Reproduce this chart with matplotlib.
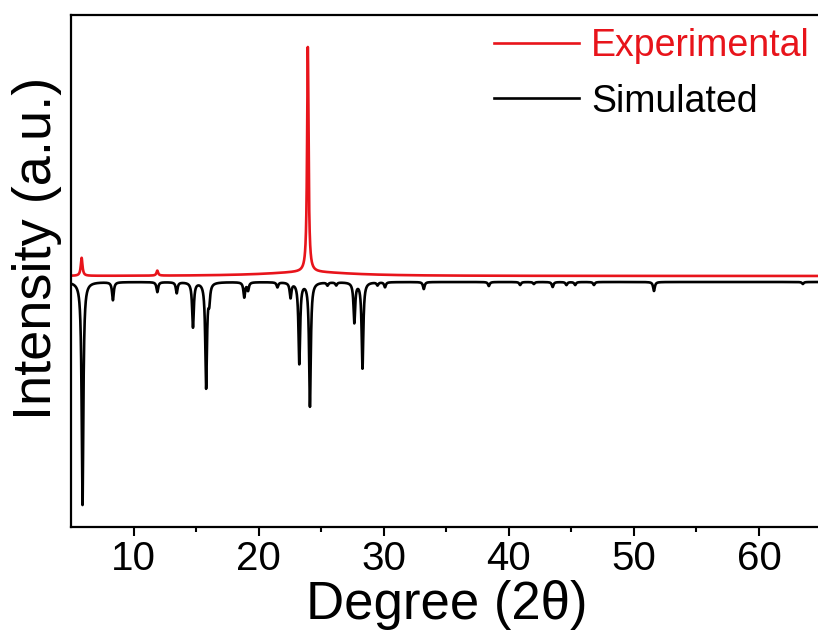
import numpy as np
import matplotlib
matplotlib.use("Agg")
import matplotlib.pyplot as plt

plt.rcParams['font.family'] = ['Liberation Sans', 'DejaVu Sans']

# peak lists (2theta in degrees, heights in plot units)
exp_pos = [5.85, 11.9, 23.93, 24.0]
exp_height = [18, 5, 225, 4]
exp_hwhm = [0.08, 0.08, 0.07, 4.0]
exp_base = 251

sim_pos = [5.92, 8.35, 11.9, 13.45, 14.75, 15.8, 16.05, 18.85, 19.15, 21.5,
           22.55, 23.25, 24.1, 25.5, 26.2, 27.65, 28.3, 29.5, 30.1, 33.2,
           38.4, 40.9, 42.0, 43.5, 44.6, 45.3, 46.8, 51.6, 63.5]
sim_depth = [223, 18, 10, 11, 45, 105, 16, 15, 8, 5,
             15, 81, 124, 3, 3, 40, 86, 3, 5, 7,
             4, 3, 2, 5, 3, 3, 3, 9, 2]
sim_hwhm = 0.08
sim_base = 245

x_ticks = [10, 20, 30, 40, 50, 60]


def pattern(x, pos, height, hwhm):
    y = np.zeros_like(x)
    for i in range(len(pos)):
        w = hwhm[i] if isinstance(hwhm, list) else hwhm
        y += height[i] * w ** 2 / ((x - pos[i]) ** 2 + w ** 2)
    return y


x = np.arange(5, 65.5, 0.005)
y_exp = exp_base + pattern(x, exp_pos, exp_height, exp_hwhm)
y_sim = sim_base - pattern(x, sim_pos, sim_depth, sim_hwhm)

fig = plt.figure(figsize=(8.18, 6.37), dpi=100)
ax = fig.add_axes([71 / 818, 110 / 637, (821.6 - 71) / 818, 512 / 637])

ax.plot(x, y_exp, color='#e8141b', lw=1.9, label='Experimental')
ax.plot(x, y_sim, color='black', lw=1.9, label='Simulated')

ax.set_xlim(5, 65)
ax.set_ylim(0, 512)
ax.set_xticks(x_ticks)
ax.set_xticks([15, 25, 35, 45, 55, 65], minor=True)
ax.set_yticks([])
ax.tick_params(axis='x', which='major', length=6.5, width=1.5, labelsize=29, pad=3)
ax.tick_params(axis='x', which='minor', length=3.5, width=1.5)
for s in ax.spines.values():
    s.set_linewidth(1.6)

ax.set_xlabel('Degree (2θ)', fontsize=38, labelpad=1)
ax.set_ylabel('Intensity (a.u.)', fontsize=39)
ax.yaxis.set_label_coords(-0.012, 0.545)
ax.yaxis.label.set_va('bottom')

ax.legend(loc='upper right', bbox_to_anchor=(810 / 818, 1 - 28 / 637),
          bbox_transform=fig.transFigure, frameon=False, fontsize=27,
          handlelength=2.27, handletextpad=0.32, labelspacing=0.52,
          borderpad=0, borderaxespad=0, labelcolor='linecolor')

fig.savefig('out.png', dpi=100)
